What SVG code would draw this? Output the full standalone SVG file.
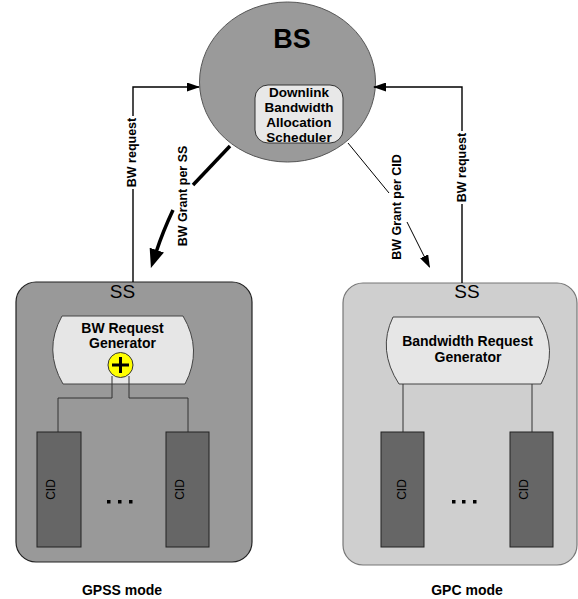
<svg xmlns="http://www.w3.org/2000/svg" width="578" height="599" viewBox="0 0 578 599">
<style>
text{font-family:"Liberation Sans",Arial,sans-serif;fill:#000}
.b{font-weight:bold}
.lbl{font-size:12.5px;font-weight:bold}
.cid{font-size:12px}
.con{fill:none;stroke:#000;stroke-width:1.4}
.thin{fill:none;stroke:#333;stroke-width:1}
.cidbox{fill:#666;stroke:#222;stroke-width:1}
.gen{fill:#e6e6e6;stroke:#444;stroke-width:1}
.dot{fill:#000}
</style>
<defs>
<marker id="arr" markerUnits="userSpaceOnUse" markerWidth="13" markerHeight="9" refX="12" refY="4.5" orient="auto"><path d="M0,0 L13,4.5 L0,9 z" fill="#000"/></marker>
<marker id="thick" markerUnits="userSpaceOnUse" markerWidth="19" markerHeight="15" refX="1" refY="7.5" orient="auto"><path d="M0,0 L19,7.5 L0,15 z" fill="#000"/></marker>
</defs>
<rect width="578" height="599" fill="#fff"/>

<g id="BS">
<ellipse cx="287.5" cy="82" rx="88" ry="80" fill="#9a9a9a" stroke="#555" stroke-width="1"/>
<text class="b" x="292" y="48" font-size="27" text-anchor="middle">BS</text>
<rect x="255" y="85" width="88" height="58" rx="13" fill="#e8e8e8" stroke="#333" stroke-width="1"/>
<g class="b" font-size="13.5" text-anchor="middle">
<text x="299" y="96.5">Downlink</text>
<text x="299" y="111.5">Bandwidth</text>
<text x="299" y="126.5">Allocation</text>
<text x="299" y="141.5">Scheduler</text>
</g>
</g>

<g id="SS_GPSS">
<rect x="16" y="282" width="236" height="280" rx="20" fill="#999" stroke="#222" stroke-width="1.2"/>
<text x="122.5" y="298" font-size="19" text-anchor="middle">SS</text>
<path class="gen" d="M62,316 L183,316 Q203,350 185,384 L63,384 Q43,350 62,316 Z"/>
<text class="b" x="122.5" y="333" font-size="14" text-anchor="middle">BW Request</text>
<text class="b" x="122.5" y="348" font-size="14" text-anchor="middle">Generator</text>
<path class="thin" d="M112,376 V398 H58 V432 M129,376 V398 H188 V432"/>
<circle cx="120.5" cy="365" r="12.5" fill="#ffff00" stroke="#333" stroke-width="1"/>
<path d="M112,365 H129 M120.5,357 V373" stroke="#000" stroke-width="3" fill="none"/>
<rect class="cidbox" x="37" y="432" width="44" height="115"/>
<rect class="cidbox" x="166" y="432" width="43" height="115"/>
<text class="cid" transform="translate(51,489.5) rotate(-90)" text-anchor="middle" dy="0.35em">CID</text>
<text class="cid" transform="translate(180,489.5) rotate(-90)" text-anchor="middle" dy="0.35em">CID</text>
<rect class="dot" x="107" y="500" width="3.5" height="3.5"/>
<rect class="dot" x="118" y="500" width="3.5" height="3.5"/>
<rect class="dot" x="129" y="500" width="3.5" height="3.5"/>
</g>

<g id="SS_GPC">
<rect x="343" y="283" width="234" height="282" rx="20" fill="#cfcfcf" stroke="#777" stroke-width="1.2"/>
<text x="467" y="298" font-size="19" text-anchor="middle">SS</text>
<path class="gen" d="M393,317 L539,317 Q559,350 541,384 L399,384 Q377,350 393,317 Z"/>
<text class="b" x="467.5" y="346" font-size="14" text-anchor="middle">Bandwidth Request</text>
<text class="b" x="468" y="362" font-size="14" text-anchor="middle">Generator</text>
<path class="thin" d="M403,384 V432 M532,384 V432"/>
<rect class="cidbox" x="381" y="432" width="43" height="115"/>
<rect class="cidbox" x="510" y="432" width="43" height="115"/>
<text class="cid" transform="translate(402,489.5) rotate(-90)" text-anchor="middle" dy="0.35em">CID</text>
<text class="cid" transform="translate(524,489.5) rotate(-90)" text-anchor="middle" dy="0.35em">CID</text>
<rect class="dot" x="452" y="500" width="3.5" height="3.5"/>
<rect class="dot" x="462" y="500" width="3.5" height="3.5"/>
<rect class="dot" x="473" y="500" width="3.5" height="3.5"/>
</g>

<g id="connectors">
<path class="con" d="M133,282 V189 M133,116 V87 H199" marker-end="url(#arr)"/>
<text class="lbl" transform="translate(132,152.5) rotate(-90)" text-anchor="middle" dy="0.35em">BW request</text>
<path class="con" d="M462,283 V204 M462,131 V87 H374" marker-end="url(#arr)"/>
<text class="lbl" transform="translate(462,167.5) rotate(-90)" text-anchor="middle" dy="0.35em">BW request</text>
<path d="M230,146 L193,185" stroke="#000" stroke-width="3.5" fill="none"/>
<path d="M173,210 Q162.7,232 156.5,251" stroke="#000" stroke-width="3.5" fill="none" marker-end="url(#thick)"/>
<text class="lbl" transform="translate(183,196) rotate(-90)" text-anchor="middle" dy="0.35em">BW Grant per SS</text>
<path d="M348,143 L389,193" stroke="#000" stroke-width="1" fill="none"/>
<path d="M407,222 L429.5,267" stroke="#000" stroke-width="1" fill="none" marker-end="url(#arr)"/>
<text class="lbl" transform="translate(397,207) rotate(-90)" text-anchor="middle" dy="0.35em">BW Grant per CID</text>
</g>

<g id="captions">
<text class="b" x="122" y="595" font-size="14" text-anchor="middle">GPSS mode</text>
<text class="b" x="467" y="595" font-size="14" text-anchor="middle">GPC mode</text>
</g>
</svg>
